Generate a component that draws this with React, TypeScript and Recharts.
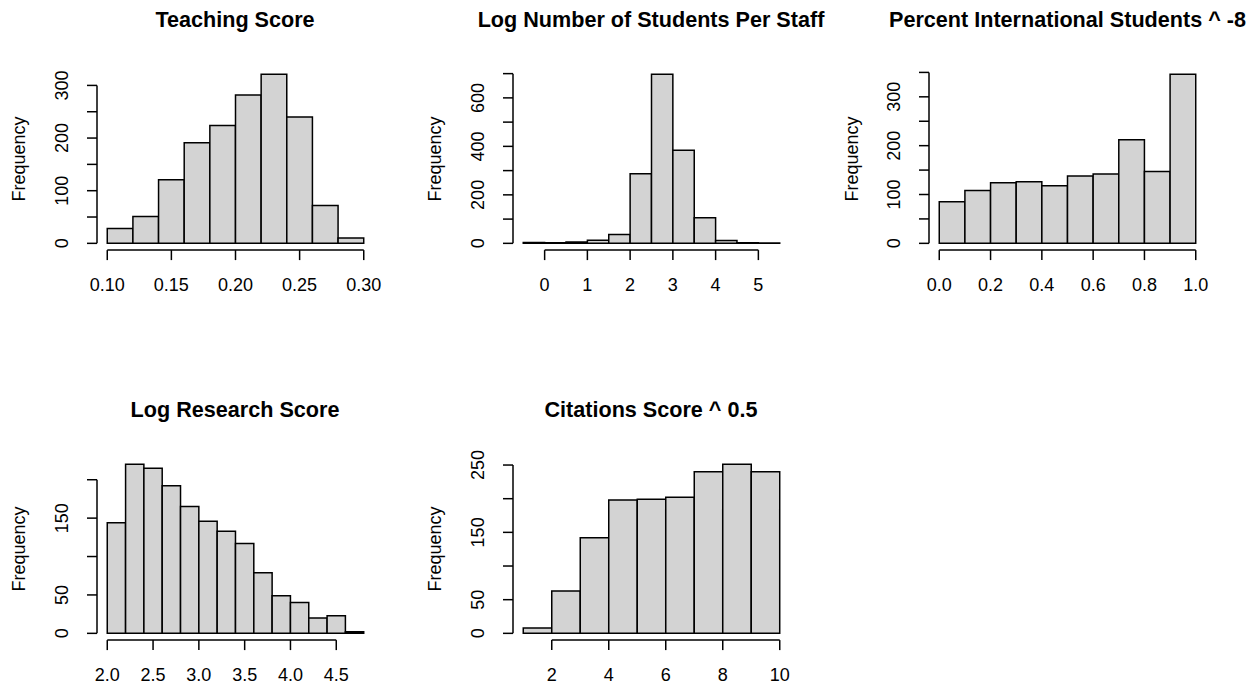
import React from 'react';
import { BarChart, Bar, XAxis, YAxis, ReferenceLine } from 'recharts';

const FONT = '"Liberation Sans", Arial, Helvetica, sans-serif';

// Teaching Score
const teachingBins = [0.1, 0.12, 0.14, 0.16, 0.18, 0.2, 0.22, 0.24, 0.26, 0.28];
const teachingCounts = [28, 51, 121, 191, 224, 282, 321, 240, 72, 10];
const teachingXTicks = [0.1, 0.15, 0.2, 0.25, 0.3];
const teachingYTicks = [0, 50, 100, 150, 200, 250, 300];
const teachingYLabels = [0, 100, 200, 300];

// Log Number of Students Per Staff
const staffBins = [-0.5, 0, 0.5, 1, 1.5, 2, 2.5, 3, 3.5, 4, 4.5, 5];
const staffCounts = [3, 2, 6, 13, 36, 287, 697, 384, 106, 12, 2, 1];
const staffXTicks = [0, 1, 2, 3, 4, 5];
const staffYTicks = [0, 100, 200, 300, 400, 500, 600, 700];
const staffYLabels = [0, 200, 400, 600];

// Percent International Students ^ -8
const intlBins = [0, 0.1, 0.2, 0.3, 0.4, 0.5, 0.6, 0.7, 0.8, 0.9];
const intlCounts = [85, 108, 124, 126, 118, 138, 142, 212, 147, 346];
const intlXTicks = [0, 0.2, 0.4, 0.6, 0.8, 1.0];
const intlYTicks = [0, 50, 100, 150, 200, 250, 300, 350];
const intlYLabels = [0, 100, 200, 300];

// Log Research Score
const researchBins = [2.0, 2.2, 2.4, 2.6, 2.8, 3.0, 3.2, 3.4, 3.6, 3.8, 4.0, 4.2, 4.4, 4.6];
const researchCounts = [144, 220, 215, 192, 165, 146, 133, 117, 79, 49, 40, 20, 23, 2];
const researchXTicks = [2.0, 2.5, 3.0, 3.5, 4.0, 4.5];
const researchYTicks = [0, 50, 100, 150, 200];
const researchYLabels = [0, 50, 150];

// Citations Score ^ 0.5
const citationBins = [1, 2, 3, 4, 5, 6, 7, 8, 9];
const citationCounts = [8, 63, 142, 198, 199, 202, 240, 251, 240];
const citationXTicks = [2, 4, 6, 8, 10];
const citationYTicks = [0, 50, 100, 150, 200, 250];
const citationYLabels = [0, 50, 150, 250];

const CHART_W = 418;
const PLOT_LEFT = 96;
const PLOT_W = 277;
const PLOT_TOP = 67.6;
const PLOT_H = 182.5;
const TICK = 10;

type HistProps = {
  title: string;
  bins: number[];
  binWidth: number;
  counts: number[];
  xTicks: number[];
  xDigits: number;
  yTicks: number[];
  yLabels: number[];
  left: number;
  top: number;
  height: number;
};

function Histogram(p: HistProps) {
  const data = p.bins.map((b, i) => ({ mid: b + p.binWidth / 2, count: p.counts[i] }));
  const x0 = p.bins[0];
  const x1 = p.bins[p.bins.length - 1] + p.binWidth;
  const xPad = (x1 - x0) * 0.04;
  const xDomain = [x0 - xPad, x1 + xPad];
  const yMax = Math.max(...p.counts);
  const yDomain = [-yMax * 0.04, yMax * 1.04];
  // a hair under the band width so recharts keeps our size (bars stay touching)
  const barSize = (PLOT_W * p.binWidth) / (xDomain[1] - xDomain[0]) - 0.02;
  const xAxisH = p.height - PLOT_TOP - PLOT_H;
  const line = { stroke: '#000', strokeWidth: 1.5 };

  const xTick = (t: any) => (
    <text x={t.x} y={t.y + 29} textAnchor="middle" fontSize={18} fontFamily={FONT} fill="#000">
      {Number(t.payload.value).toFixed(p.xDigits)}
    </text>
  );
  const yTick = (t: any) => {
    if (!p.yLabels.includes(t.payload.value)) return <g />;
    const bx = t.x - 17.2;
    return (
      <text x={bx} y={t.y} transform={`rotate(-90, ${bx}, ${t.y})`} textAnchor="middle" fontSize={18} fontFamily={FONT} fill="#000">
        {t.payload.value}
      </text>
    );
  };

  return (
    <div style={{ position: 'absolute', left: p.left, top: p.top, width: CHART_W, height: p.height }}>
      <div
        style={{
          position: 'absolute', left: PLOT_LEFT + PLOT_W / 2, top: PLOT_TOP - 40.5 - 18.3,
          transform: 'translateX(-50%)', whiteSpace: 'nowrap', fontFamily: FONT,
          fontSize: 21.6, lineHeight: '21.6px', fontWeight: 'bold', color: '#000',
        }}
      >
        {p.title}
      </div>
      <div
        style={{
          position: 'absolute', left: PLOT_LEFT - 77.5, top: PLOT_TOP + PLOT_H / 2,
          transform: 'translate(-50%, -50%) rotate(-90deg)', whiteSpace: 'nowrap',
          fontFamily: FONT, fontSize: 18, lineHeight: '18px', color: '#000',
        }}
      >
        Frequency
      </div>
      <BarChart
        width={CHART_W}
        height={p.height}
        data={data}
        barCategoryGap={0}
        barGap={0}
        margin={{ top: PLOT_TOP, right: CHART_W - PLOT_LEFT - PLOT_W, bottom: 0, left: 0 }}
      >
        <XAxis
          dataKey="mid" type="number" domain={xDomain} allowDataOverflow ticks={p.xTicks} interval={0}
          height={xAxisH} axisLine={false} tickLine={line} tickSize={TICK} tick={xTick}
        />
        <YAxis
          type="number" domain={yDomain} allowDataOverflow ticks={p.yTicks} interval={0}
          width={PLOT_LEFT} axisLine={false} tickLine={line} tickSize={TICK} tick={yTick}
        />
        <Bar dataKey="count" fill="#d3d3d3" stroke="#000" strokeWidth={1.5} barSize={barSize} isAnimationActive={false} />
        <ReferenceLine
          segment={[{ x: p.xTicks[0], y: yDomain[0] }, { x: p.xTicks[p.xTicks.length - 1], y: yDomain[0] }]}
          {...line} ifOverflow="visible"
        />
        <ReferenceLine
          segment={[{ x: xDomain[0], y: 0 }, { x: xDomain[0], y: p.yTicks[p.yTicks.length - 1] }]}
          {...line} ifOverflow="visible"
        />
      </BarChart>
    </div>
  );
}

export default function App() {
  return (
    <div style={{ position: 'absolute', left: 0, top: 0, width: 1255, height: 683, background: '#fff', overflow: 'hidden' }}>
      <Histogram title="Teaching Score" bins={teachingBins} binWidth={0.02} counts={teachingCounts}
        xTicks={teachingXTicks} xDigits={2} yTicks={teachingYTicks} yLabels={teachingYLabels}
        left={0.5} top={0} height={341} />
      <Histogram title="Log Number of Students Per Staff" bins={staffBins} binWidth={0.5} counts={staffCounts}
        xTicks={staffXTicks} xDigits={0} yTicks={staffYTicks} yLabels={staffYLabels}
        left={416.5} top={0} height={341} />
      <Histogram title="Percent International Students ^ -8" bins={intlBins} binWidth={0.1} counts={intlCounts}
        xTicks={intlXTicks} xDigits={1} yTicks={intlYTicks} yLabels={intlYLabels}
        left={833} top={0} height={341} />
      <Histogram title="Log Research Score" bins={researchBins} binWidth={0.2} counts={researchCounts}
        xTicks={researchXTicks} xDigits={1} yTicks={researchYTicks} yLabels={researchYLabels}
        left={0.5} top={390} height={293} />
      <Histogram title="Citations Score ^ 0.5" bins={citationBins} binWidth={1} counts={citationCounts}
        xTicks={citationXTicks} xDigits={0} yTicks={citationYTicks} yLabels={citationYLabels}
        left={416.5} top={390} height={293} />
    </div>
  );
}
